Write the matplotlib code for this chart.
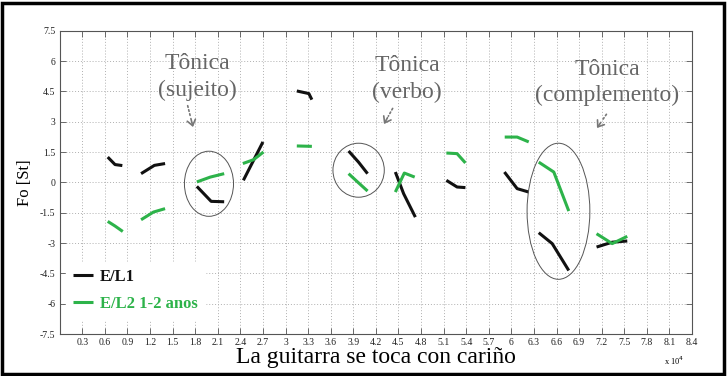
import matplotlib
matplotlib.use("Agg")
import matplotlib.pyplot as plt
from matplotlib.patches import Ellipse, Rectangle
from matplotlib.ticker import FuncFormatter, MultipleLocator

plt.rcParams['font.family'] = ['Liberation Serif', 'DejaVu Serif']
plt.rcParams['axes.unicode_minus'] = False

# ---- data (x in samples, y in semitones) ----
black_x = [
    [6380, 7350, 8320],
    [10810, 12580, 14000],
    [18220, 20120, 21850],
    [24400, 27000],
    [31500, 33100, 33500],
    [38380, 39700, 40900],
    [44590, 45690, 47250],
    [51370, 52790, 53900],
    [59080, 60770, 62310],
    [63640, 65430, 67630],
    [71320, 73400, 75400],
]
black_y = [
    [1.25, 0.88, 0.83],
    [0.43, 0.84, 0.93],
    [-0.20, -0.94, -0.96],
    [0.10, 2.00],
    [4.52, 4.39, 4.09],
    [1.55, 1.00, 0.43],
    [0.51, -0.56, -1.72],
    [0.10, -0.23, -0.26],
    [0.51, -0.31, -0.48],
    [-2.49, -3.03, -4.36],
    [-3.20, -2.96, -2.90],
]
green_x = [
    [6380, 7350, 8380],
    [10810, 12450, 14000],
    [18220, 20000, 21850],
    [24330, 25750, 27070],
    [31500, 33500],
    [38380, 39570, 40900],
    [44590, 45780, 47160],
    [51370, 52790, 53900],
    [59120, 60770, 62310],
    [63640, 65640, 67630],
    [71320, 73400, 75400],
]
green_y = [
    [-1.93, -2.16, -2.43],
    [-1.85, -1.47, -1.30],
    [0.02, 0.26, 0.43],
    [0.93, 1.12, 1.50],
    [1.80, 1.78],
    [0.43, 0.02, -0.43],
    [-0.48, 0.46, 0.26],
    [1.45, 1.42, 0.96],
    [2.24, 2.24, 2.00],
    [1.00, 0.51, -1.42],
    [-2.54, -3.03, -2.67],
]
series_labels = ["E/L1", "E/L2 1-2 anos"]
x_ticks = [3000 * i for i in range(1, 29)]
y_ticks = [-7.5, -6, -4.5, -3, -1.5, 0, 1.5, 3, 4.5, 6, 7.5]

BLACK = "#111111"
GREEN = "#2db34a"
GRAY_TXT = "#666666"

W, H = 727, 376
fig = plt.figure(figsize=(W / 100, H / 100), dpi=100)
ax = fig.add_axes([59.7 / W, 1 - 334 / H, 632.3 / W, 303.3 / H])

hb = hg = None
for xs, ys in zip(black_x, black_y):
    hb, = ax.plot(xs, ys, color=BLACK, lw=2.2, solid_capstyle='butt', zorder=3)
for xs, ys in zip(green_x, green_y):
    hg, = ax.plot(xs, ys, color=GREEN, lw=2.2, solid_capstyle='butt', zorder=3)

ax.set_xlim(0, 84000)
ax.set_ylim(-7.5, 7.5)
ax.set_xticks(x_ticks)
ax.set_yticks(y_ticks)
ax.xaxis.set_major_formatter(FuncFormatter(lambda v, p: f"{v/1e4:g}"))
ax.yaxis.set_major_formatter(FuncFormatter(lambda v, p: f"{v:g}"))
ax.tick_params(direction='in', top=True, right=True, length=4, width=0.6,
               color='#555555', labelsize=7, labelcolor='#222222', pad=3)
ax.grid(True, color='#b0b0b0', linestyle=(0, (1, 2)), linewidth=0.7)
ax.set_axisbelow(True)
for s in ax.spines.values():
    s.set_color('#555555')
    s.set_linewidth(0.8)

ax.set_xlabel("La guitarra se toca con cariño", fontsize=17, labelpad=0)
ax.set_ylabel("Fo [St]", fontsize=12, labelpad=5)
fig.text(674 / W, 1 - 361 / H, "x 10$^4$", fontsize=6, ha='center', va='center')

leg = ax.legend([hb, hg], series_labels, loc='lower left', bbox_to_anchor=(0.002, 0.033),
                borderaxespad=0.3, borderpad=0.4, handlelength=1.25, handletextpad=0.4,
                labelspacing=0.7, frameon=True, fancybox=False, edgecolor='white',
                facecolor='white', framealpha=1,
                prop={'weight': 'bold', 'size': 12}, labelcolor='linecolor')

# ellipses (annotation shapes, data coordinates)
for (cx, cy, ew, eh) in [(19830, -0.07, 6520, 3.22),
                         (39710, 0.60, 6820, 2.67),
                         (66260, -1.43, 8340, 6.73)]:
    ax.add_patch(Ellipse((cx, cy), ew, eh, fill=False, ec='#555555', lw=0.7, zorder=4))

# annotation texts (figure pixel positions)
def fp(px, py):
    return (px / W, 1 - py / H)

for cx, y1, y2, l1, l2 in [(197, 69, 96, "Tônica", "(sujeito)"),
                           (407, 71, 98, "Tônica", "(verbo)"),
                           (607, 75, 101, "Tônica", "(complemento)")]:
    fig.text(*fp(cx, y1), l1, fontsize=17, color=GRAY_TXT, ha='center', va='baseline')
    fig.text(*fp(cx, y2), l2, fontsize=17, color=GRAY_TXT, ha='center', va='baseline')

for (x0, y0, x1, y1) in [(187, 103, 193, 127), (394, 106, 384, 124), (608, 112, 597, 128)]:
    fig.add_artist(matplotlib.patches.FancyArrowPatch(
        fp(x0, y0), fp(x1 + (x0 - x1) * 0.3, y1 + (y0 - y1) * 0.3),
        transform=fig.transFigure, arrowstyle='-', linestyle=(0, (1, 1.5)),
        color='#777777', lw=1.2))
    fig.add_artist(matplotlib.patches.FancyArrowPatch(
        fp(x1 + (x0 - x1) * 0.35, y1 + (y0 - y1) * 0.35), fp(x1, y1),
        transform=fig.transFigure, arrowstyle='->,head_length=4,head_width=3',
        color='#777777', lw=1.2, shrinkA=0, shrinkB=0))

fig.patches.append(Rectangle((0.003, 0.005), 0.993, 0.987, transform=fig.transFigure,
                             fill=False, ec='black', lw=2.5))

fig.savefig("out.png", dpi=100, facecolor='white')
